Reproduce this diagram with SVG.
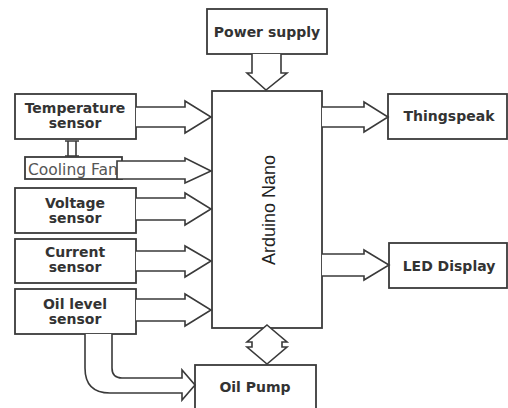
<svg xmlns="http://www.w3.org/2000/svg" width="508" height="408" viewBox="0 0 508 408">
<style>
.box{fill:#fff;stroke:#3a3a3a;stroke-width:1.8}
.arr{fill:#fff;stroke:#3a3a3a;stroke-width:1.6;stroke-linejoin:miter}
.lbl{font-family:"DejaVu Sans",sans-serif;font-weight:bold;font-size:14px;fill:#333;text-anchor:middle}
.reg{font-family:"DejaVu Sans",sans-serif;font-size:15.5px;fill:#555}
.nano{font-family:"Liberation Sans",Arial,sans-serif;font-size:19px;fill:#222;text-anchor:middle}
</style>
<rect width="508" height="408" fill="#fff"/>
<g id="power"><rect class="box" x="207" y="9" width="120" height="45"/><text class="lbl" x="267" y="37">Power supply</text></g>
<g id="arduino"><rect class="box" x="212" y="91" width="110" height="237"/><text class="nano" transform="translate(275,210) rotate(-90)" textLength="110" lengthAdjust="spacingAndGlyphs">Arduino Nano</text></g>
<g id="temp"><rect class="box" x="15" y="94" width="121" height="45"/><text class="lbl" x="75" y="113">Temperature</text><text class="lbl" x="75" y="128">sensor</text></g>
<g id="fan"><rect class="box" x="25" y="157" width="97" height="22"/><text class="reg" x="28" y="175">Cooling Fan</text></g>
<g id="voltage"><rect class="box" x="15" y="188" width="121" height="45"/><text class="lbl" x="75" y="208">Voltage</text><text class="lbl" x="75" y="223">sensor</text></g>
<g id="current"><rect class="box" x="15" y="239" width="121" height="44"/><text class="lbl" x="75" y="257">Current</text><text class="lbl" x="75" y="272">sensor</text></g>
<g id="oil"><rect class="box" x="15" y="289" width="121" height="45"/><text class="lbl" x="75" y="309">Oil level</text><text class="lbl" x="75" y="324">sensor</text></g>
<g id="thingspeak"><rect class="box" x="388" y="94" width="119" height="45"/><text class="lbl" x="449" y="121">Thingspeak</text></g>
<g id="led"><rect class="box" x="389" y="243" width="118" height="45"/><text class="lbl" x="449" y="271">LED Display</text></g>
<g id="pump"><rect class="box" x="195" y="365" width="121" height="50"/><text class="lbl" x="255" y="392">Oil Pump</text></g>
<g id="connectors">
<path class="arr" d="M252,54 V73 H247 L266,90 L287,73 H281 V54"/>
<path class="arr" d="M136,107 H185 V101 L211,117 L185,133 V127 H136"/>
<path class="arr" d="M117,161 H185 V158 L211,171 L185,183 V179 H117 Z"/>
<path class="arr" d="M136,198 H185 V193 L211,209 L185,225 V220 H136"/>
<path class="arr" d="M136,251 H185 V246 L211,261 L185,277 V271 H136"/>
<path class="arr" d="M136,299 H185 V294 L211,310 L185,326 V321 H136"/>
<path class="arr" d="M322,107 H364 V102 L388,117 L364,132 V127 H322"/>
<path class="arr" d="M322,254 H364 V250 L389,265 L364,280 V276 H322"/>
<path class="arr" d="M85,334 V368 Q85,393 110,393 H182 V400 L195,385 L182,370 V378 H122 Q112,378 112,368 V334"/>
<path class="arr" d="M267,325 L287,342 H282 V347 H287 L267,364 L247,347 H252 V342 H247 Z"/>
<path fill="none" stroke="#3a3a3a" stroke-width="1.6" d="M68,141 V156 M76,141 V156 M65,141 H79 M65,156 H79"/>
</g>
</svg>
